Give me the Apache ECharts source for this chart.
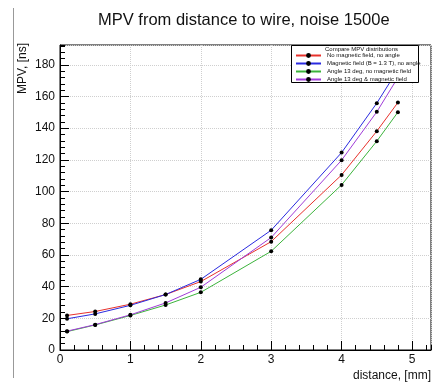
<!DOCTYPE html>
<html><head><meta charset="utf-8">
<script src="https://cdn.jsdelivr.net/npm/echarts@6/dist/echarts.min.js"></script>
<style>html,body{margin:0;padding:0;background:#fff}#c{width:446px;height:382px}</style>
</head><body><div id="c"></div>
<script>
const distances = [0.1, 0.5, 1, 1.5, 2, 3, 4, 4.5, 4.8];
const seriesNames = [
  "No magnetic field, no angle",
  "Magnetic field (B = 1.3 T), no angle",
  "Angle 13 deg, no magnetic field",
  "Angle 13 deg & magnetic field"
];
const noFieldNoAngle = [21.8, 24.3, 28.9, 35.0, 43.2, 68.4, 110.5, 138.1, 156.2];
const fieldNoAngle   = [19.7, 22.8, 28.2, 35.0, 44.6, 75.6, 124.6, 155.8, 177.0];
const angleNoField   = [11.6, 15.8, 21.8, 28.4, 36.4, 62.3, 104.2, 131.8, 150.1];
const angleAndField  = [11.9, 16.0, 22.2, 29.7, 39.6, 71.0, 119.8, 150.3, 172.0];
const titleText = "MPV from distance to wire, noise 1500e";
const legendHeader = "Compare MPV distributions";
const xName = "distance, [mm]";
const yName = "MPV, [ns]";

const values = [noFieldNoAngle, fieldNoAngle, angleNoField, angleAndField];
const colors = ['#e8322c', '#2a2ae0', '#3cb43c', '#a03cd8'];
const FONT = '"Liberation Sans", Arial, Helvetica, sans-serif';
const X_MAX = 5.27, Y_MAX = 192.5;

const chart = echarts.init(document.getElementById('c'), null, {renderer: 'canvas'});
chart.setOption({
  animation: false,
  backgroundColor: '#fff',
  title: {
    text: titleText, left: 98, top: 12, padding: 0,
    textStyle: {fontFamily: FONT, fontSize: 16.5, fontWeight: 'normal', color: '#111'}
  },
  grid: {left: 60, right: 15, top: 45, bottom: 32, show: true, borderColor: '#000', borderWidth: 1, backgroundColor: 'transparent'},
  legend: {
    orient: 'vertical', left: 295, top: 52.5, padding: 0,
    itemWidth: 25, itemHeight: 6, itemGap: 2,
    textStyle: {fontFamily: FONT, fontSize: 6, color: '#111', padding: [0, 0, 0, 1]},
    data: seriesNames
  },
  xAxis: [{
    type: 'value', min: 0, max: X_MAX, interval: 1, position: 'bottom',
    name: xName, nameLocation: 'end', nameGap: 0,
    nameTextStyle: {fontFamily: FONT, fontSize: 12, color: '#111', align: 'right', verticalAlign: 'top', padding: [20, 0, 0, 0]},
    axisLine: {show: true, lineStyle: {color: '#000', width: 1}},
    axisTick: {show: true, inside: true, length: 9, lineStyle: {color: '#000'}},
    axisLabel: {fontFamily: FONT, fontSize: 12, color: '#111', margin: 4, showMaxLabel: false},
    splitLine: {show: true, lineStyle: {color: '#cfcfcf', type: 'dotted', width: 1}}
  }, {
    type: 'value', min: 0, max: X_MAX, interval: 0.2, position: 'bottom', offset: 0,
    axisLine: {show: false},
    axisTick: {show: true, inside: true, length: 5, lineStyle: {color: '#000'}},
    axisLabel: {show: false},
    splitLine: {show: false}
  }],
  yAxis: [{
    type: 'value', min: 0, max: Y_MAX, interval: 20, position: 'left',
    axisLine: {show: true, lineStyle: {color: '#000', width: 1}},
    axisTick: {show: true, inside: true, length: 9, lineStyle: {color: '#000'}},
    axisLabel: {fontFamily: FONT, fontSize: 12, color: '#111', margin: 5, showMaxLabel: false},
    splitLine: {show: true, lineStyle: {color: '#cfcfcf', type: 'dotted', width: 1}}
  }, {
    type: 'value', min: 0, max: Y_MAX, interval: 4, position: 'left', offset: 0,
    axisLine: {show: false},
    axisTick: {show: true, inside: true, length: 5, lineStyle: {color: '#000'}},
    axisLabel: {show: false},
    splitLine: {show: false}
  }],
  graphic: [
    {type: 'line', z: 1, shape: {x1: 13.5, y1: 8, x2: 13.5, y2: 378}, style: {stroke: '#999', lineWidth: 1}},
    {type: 'rect', z: 3, shape: {x: 291.5, y: 45.5, width: 127, height: 37}, style: {fill: '#fff', stroke: '#000', lineWidth: 1}},
    {type: 'text', z: 4, x: 361.5, y: 49, style: {text: legendHeader, font: '6px ' + FONT, fill: '#111', textAlign: 'center', textVerticalAlign: 'middle'}},
    {type: 'text', z: 4, x: 23, y: 43, rotation: Math.PI / 2, style: {text: yName, font: '12px ' + FONT, fill: '#111', textAlign: 'right', textVerticalAlign: 'middle'}}
  ],
  series: seriesNames.map((n, i) => ({
    name: n, type: 'line', z: 2, xAxisIndex: 0, yAxisIndex: 0,
    data: distances.map((d, j) => [d, values[i][j]]),
    symbol: 'circle', symbolSize: 4, showSymbol: true,
    lineStyle: {color: colors[i], width: 1},
    itemStyle: {color: '#000'},
    clip: true
  }))
});
</script></body></html>
